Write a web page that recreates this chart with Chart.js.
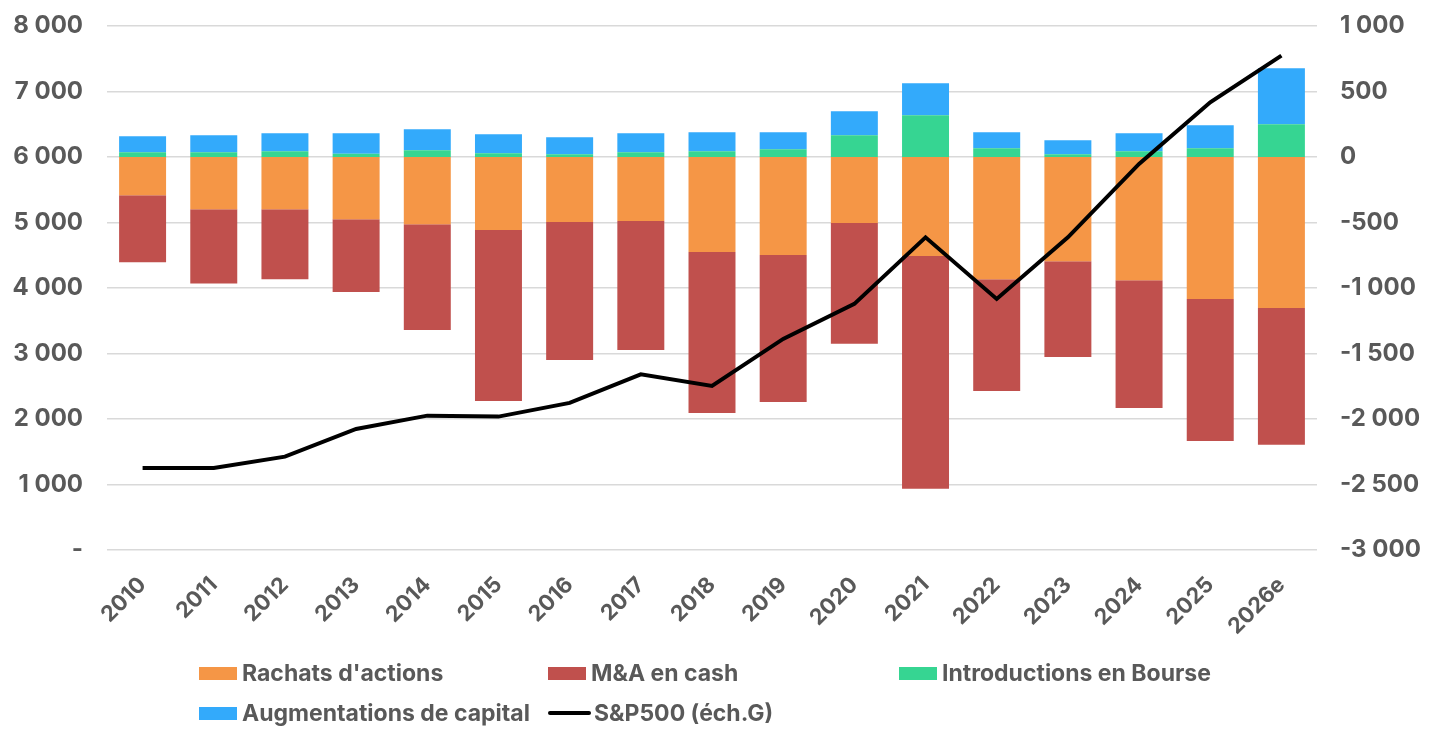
<!DOCTYPE html>
<html>
<head>
<meta charset="utf-8">
<script src="https://cdn.jsdelivr.net/npm/chart.js@4.4.1/dist/chart.umd.min.js"></script>
<style>
  html, body { margin: 0; padding: 0; background: #ffffff; }
  #wrap { position: relative; width: 1434px; height: 744px; }
  #chart { position: absolute; left: 0; top: 0; }
  #legend { position: absolute; left: 0; top: 0; width: 1434px; height: 744px; pointer-events: none;
            font-family: Inter, "Liberation Sans", sans-serif; font-weight: 700; font-size: 23px; color: #595959; }
  .item { position: absolute; display: flex; align-items: center; white-space: nowrap; }
  .swatch { width: 38px; height: 13px; margin-right: 5px; }
  .lineswatch { width: 43px; height: 4px; margin-right: 3px; border-radius: 2px; }
</style>
</head>
<body>
<div id="wrap">
  <canvas id="chart" width="1434" height="744"></canvas>
  <div id="legend"></div>
</div>
<script>
const categories = ["2010","2011","2012","2013","2014","2015","2016","2017","2018","2019","2020","2021","2022","2023","2024","2025","2026e"];
const rachats = [-293,-400,-400,-476,-514,-557,-496,-489,-725,-748,-504,-756,-934,-796,-941,-1084,-1153];
const maCash = [-511,-566,-534,-555,-807,-1306,-1054,-984,-1229,-1122,-923,-1778,-852,-731,-975,-1084,-1045];
const introductions = [36,36,43,25,51,28,20,36,43,59,165,318,66,20,43,66,249];
const augmentations = [122,129,138,156,160,145,130,145,145,129,184,244,122,107,138,176,428];
const sp500 = [1252,1252,1424,1847,2050,2035,2244,2681,2504,3221,3756,4773,3832,4773,5893,6834,7547];
const leftTicks = [0,1000,2000,3000,4000,5000,6000,7000,8000];
const rightTicks = [-3000,-2500,-2000,-1500,-1000,-500,0,500,1000];

const FONT = 'Inter, "Liberation Sans", sans-serif';
const TEXT = '#595959';
function fmt(v) {
  const s = Math.abs(v).toString().replace(/\B(?=(\d{3})+(?!\d))/g, ' ');
  return (v < 0 ? '-' : '') + s;
}

const chart = new Chart(document.getElementById('chart'), {
  data: {
    labels: categories,
    datasets: [
      { type: 'line', label: 'S&P500 (éch.G)', data: sp500, yAxisID: 'y', borderColor: '#000000', borderWidth: 4,
        pointRadius: 0, tension: 0, fill: false, order: 0, legendCol: 1, legendRow: 1 },
      { type: 'bar', label: "Rachats d'actions", data: rachats, yAxisID: 'y1', backgroundColor: '#F59646', stack: 's', order: 1, legendCol: 0, legendRow: 0 },
      { type: 'bar', label: 'M&A en cash', data: maCash, yAxisID: 'y1', backgroundColor: '#C0504D', stack: 's', order: 1, legendCol: 1, legendRow: 0 },
      { type: 'bar', label: 'Introductions en Bourse', data: introductions, yAxisID: 'y1', backgroundColor: '#36D592', stack: 's', order: 1, legendCol: 2, legendRow: 0 },
      { type: 'bar', label: 'Augmentations de capital', data: augmentations, yAxisID: 'y1', backgroundColor: '#33AAFB', stack: 's', order: 1, legendCol: 0, legendRow: 1 }
    ]
  },
  options: {
    responsive: false,
    animation: false,
    devicePixelRatio: 1,
    layout: { padding: { left: 0, right: 0, top: 26, bottom: 90 } },
    datasets: { bar: { categoryPercentage: 0.66, barPercentage: 1.0 } },
    plugins: { legend: { display: false }, tooltip: { enabled: false } },
    scales: {
      x: {
        stacked: true,
        grid: { display: false },
        border: { display: false },
        ticks: { color: TEXT, font: { family: FONT, size: 22, weight: 'bold' }, maxRotation: 45, minRotation: 45, padding: 14, autoSkip: false }
      },
      y: {
        position: 'left',
        min: 0, max: 8000,
        afterBuildTicks: (axis) => { axis.ticks = leftTicks.map(v => ({ value: v })); },
        afterFit: (axis) => { axis.width = 107; axis.paddingTop = 0; axis.paddingBottom = 0; },
        grid: { color: '#D9D9D9', lineWidth: 1.5, drawTicks: false },
        border: { display: false },
        ticks: { color: TEXT, font: { family: FONT, size: 24, weight: 'bold' }, padding: 24,
                 callback: (v) => v === 0 ? '-' : fmt(v) }
      },
      y1: {
        position: 'right',
        stacked: true,
        min: -3000, max: 1000,
        afterBuildTicks: (axis) => { axis.ticks = rightTicks.map(v => ({ value: v })); },
        afterFit: (axis) => { axis.width = 117; axis.paddingTop = 0; axis.paddingBottom = 0; },
        grid: { display: false, drawTicks: false },
        border: { display: false },
        ticks: { color: TEXT, font: { family: FONT, size: 24, weight: 'bold' }, padding: 23,
                 callback: (v) => fmt(v) }
      }
    }
  }
});

// HTML legend built from the chart's datasets
const legendEl = document.getElementById('legend');
const colX = [199, 548, 899];
const rowY = [673, 713];
chart.data.datasets.forEach(ds => {
  const item = document.createElement('div');
  item.className = 'item';
  item.style.left = colX[ds.legendCol] + 'px';
  item.style.top = (rowY[ds.legendRow] - 14) + 'px';
  item.style.height = '28px';
  const sw = document.createElement('span');
  if (ds.type === 'line') {
    sw.className = 'lineswatch';
    sw.style.background = ds.borderColor;
  } else {
    sw.className = 'swatch';
    sw.style.background = ds.backgroundColor;
  }
  const tx = document.createElement('span');
  tx.textContent = ds.label;
  item.appendChild(sw);
  item.appendChild(tx);
  legendEl.appendChild(item);
});
</script>
</body>
</html>
